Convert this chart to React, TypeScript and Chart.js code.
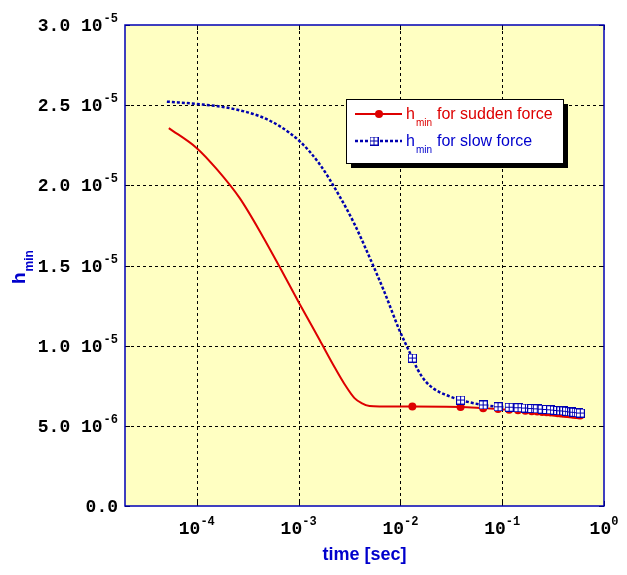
import { useEffect, useRef } from "react";
import { Chart, registerables } from "chart.js";

Chart.register(...registerables);

// ---- data ----
const markerTimes = [
  0.0131, 0.039, 0.065, 0.091, 0.117, 0.143, 0.169, 0.195, 0.221, 0.247, 0.273, 0.299,
  0.325, 0.351, 0.377, 0.403, 0.429, 0.455, 0.481, 0.507, 0.533, 0.559, 0.585,
];

const suddenTime = [
  5.31e-5, 1.0e-4, 1.57e-4, 2.64e-4, 4.43e-4, 6.52e-4, 1.02e-3, 1.61e-3, 2.25e-3, 2.82e-3,
  3.54e-3, 4.15e-3, 4.97e-3, 6.22e-3,
  0.0131, 0.039, 0.065, 0.091, 0.117, 0.143, 0.169, 0.195, 0.221, 0.247, 0.273, 0.299,
  0.325, 0.351, 0.377, 0.403, 0.429, 0.455, 0.481, 0.507, 0.533, 0.559, 0.585,
];
const suddenH = [
  2.357e-5, 2.232e-5, 2.101e-5, 1.92e-5, 1.683e-5, 1.49e-5, 1.262e-5, 1.035e-5, 8.67e-6, 7.61e-6,
  6.73e-6, 6.42e-6, 6.23e-6, 6.2e-6,
  6.2e-6, 6.17e-6, 6.1e-6, 6.05e-6, 6.0e-6, 5.97e-6, 5.94e-6, 5.91e-6, 5.89e-6, 5.87e-6, 5.85e-6, 5.83e-6,
  5.81e-6, 5.79e-6, 5.77e-6, 5.76e-6, 5.74e-6, 5.72e-6, 5.71e-6, 5.69e-6, 5.68e-6, 5.66e-6, 5.65e-6,
];

const slowTime = [
  5.08e-5, 1.07e-4, 2.11e-4, 4.15e-4, 6.52e-4, 1.02e-3, 1.61e-3, 2.52e-3, 3.54e-3, 4.97e-3,
  6.97e-3, 9.77e-3, 0.0131, 0.01469, 0.01758, 0.02155, 0.02822,
  0.039, 0.065, 0.091, 0.117, 0.143, 0.169, 0.195, 0.221, 0.247, 0.273, 0.299,
  0.325, 0.351, 0.377, 0.403, 0.429, 0.455, 0.481, 0.507, 0.533, 0.559, 0.585,
];
const slowH = [
  2.522e-5, 2.506e-5, 2.481e-5, 2.431e-5, 2.369e-5, 2.276e-5, 2.132e-5, 1.933e-5, 1.758e-5, 1.552e-5,
  1.334e-5, 1.097e-5, 9.23e-6, 8.54e-6, 7.79e-6, 7.29e-6, 6.92e-6,
  6.61e-6, 6.3e-6, 6.19e-6, 6.16e-6, 6.13e-6, 6.11e-6, 6.08e-6, 6.06e-6, 6.04e-6, 6.02e-6, 6.0e-6,
  5.98e-6, 5.96e-6, 5.94e-6, 5.93e-6, 5.91e-6, 5.89e-6, 5.87e-6, 5.85e-6, 5.84e-6, 5.82e-6, 5.8e-6,
];

const xTicks = [1e-4, 1e-3, 1e-2, 1e-1, 1];
const xTickExp = ["-4", "-3", "-2", "-1", "0"];
const yTicks = [0, 5e-6, 1e-5, 1.5e-5, 2e-5, 2.5e-5, 3e-5];
const yTickMant = ["0.0", "5.0", "1.0", "1.5", "2.0", "2.5", "3.0"];
const yTickExp = ["", "-6", "-5", "-5", "-5", "-5", "-5"];
const xMin = 1.97e-5;
const xMax = 1;
const yMin = 0;
const yMax = 3e-5;

const xTitle = "time [sec]";
const yTitleMain = "h";
const yTitleSub = "min";
const legendMain = "h";
const legendSub = "min";
const legendLabels = ["for sudden force", "for slow force"];

// ---- styles ----
const RED = "#DD0000";
const BLUE_LINE = "#0000B0";
const BLUE_TEXT = "#0000CC";
const PLOT_BG = "#FFFFC2";
const FRAME = "#0000B4";

function makeSquare(color: string) {
  const c = document.createElement("canvas");
  c.width = 9;
  c.height = 9;
  const g = c.getContext("2d")!;
  g.fillStyle = "#ffffff";
  g.fillRect(0, 0, 9, 9);
  g.strokeStyle = color;
  g.lineWidth = 1;
  g.strokeRect(0.5, 0.5, 8, 8);
  g.beginPath();
  g.moveTo(4.5, 0);
  g.lineTo(4.5, 9);
  g.moveTo(0, 4.5);
  g.lineTo(9, 4.5);
  g.stroke();
  return c;
}

const decor = {
  id: "decor",
  beforeDraw(chart: any) {
    const { ctx, chartArea: a, width, height } = chart;
    const xs = chart.scales.x;
    const ys = chart.scales.y;
    ctx.save();
    ctx.fillStyle = "#ffffff";
    ctx.fillRect(0, 0, width, height);
    ctx.fillStyle = PLOT_BG;
    ctx.fillRect(a.left, a.top, a.right - a.left, a.bottom - a.top);
    ctx.strokeStyle = "#000";
    ctx.lineWidth = 1;
    ctx.setLineDash([3, 3]);
    xTicks.forEach((t) => {
      const x = Math.round(xs.getPixelForValue(t)) + 0.5;
      if (x > a.left + 2 && x < a.right - 2) {
        ctx.beginPath();
        ctx.moveTo(x, a.top);
        ctx.lineTo(x, a.bottom);
        ctx.stroke();
      }
    });
    yTicks.forEach((t) => {
      const y = Math.round(ys.getPixelForValue(t)) + 0.5;
      if (y > a.top + 2 && y < a.bottom - 2) {
        ctx.beginPath();
        ctx.moveTo(a.left, y);
        ctx.lineTo(a.right, y);
        ctx.stroke();
      }
    });
    ctx.restore();
  },
  afterDatasetsDraw(chart: any) {
    const { ctx, chartArea: a } = chart;
    const xs = chart.scales.x;
    const ys = chart.scales.y;
    ctx.save();
    ctx.strokeStyle = "#000";
    ctx.lineWidth = 1;
    ctx.setLineDash([]);
    xTicks.forEach((t) => {
      const x = Math.round(xs.getPixelForValue(t)) + 0.5;
      ctx.beginPath();
      ctx.moveTo(x, a.bottom);
      ctx.lineTo(x, a.bottom - 5);
      ctx.moveTo(x, a.top);
      ctx.lineTo(x, a.top + 5);
      ctx.stroke();
    });
    yTicks.forEach((t) => {
      const y = Math.round(ys.getPixelForValue(t)) + 0.5;
      ctx.beginPath();
      ctx.moveTo(a.left, y);
      ctx.lineTo(a.left + 5, y);
      ctx.moveTo(a.right, y);
      ctx.lineTo(a.right - 5, y);
      ctx.stroke();
    });
    ctx.strokeStyle = FRAME;
    ctx.lineWidth = 1.5;
    ctx.strokeRect(a.left, a.top, a.right - a.left, a.bottom - a.top);
    ctx.restore();
  },
  afterDraw(chart: any) {
    const { ctx, chartArea: a } = chart;
    const xs = chart.scales.x;
    const ys = chart.scales.y;
    ctx.save();
    ctx.fillStyle = "#000";
    const mainFont = "bold 18px 'Liberation Mono', 'Courier New', monospace";
    const supFont = "bold 12px 'Liberation Mono', 'Courier New', monospace";
    // y tick labels
    yTicks.forEach((t, i) => {
      const y = ys.getPixelForValue(t);
      const right = a.left - 7;
      ctx.textBaseline = "alphabetic";
      if (yTickExp[i]) {
        ctx.font = supFont;
        const sw = ctx.measureText(yTickExp[i]).width;
        ctx.textAlign = "left";
        ctx.fillText(yTickExp[i], right - sw, y - 3);
        ctx.font = mainFont;
        ctx.textAlign = "right";
        ctx.fillText(yTickMant[i] + " 10", right - sw - 1, y + 6);
      } else {
        ctx.font = mainFont;
        ctx.textAlign = "right";
        ctx.fillText(yTickMant[i], right, y + 6);
      }
    });
    // x tick labels
    xTicks.forEach((t, i) => {
      const x = xs.getPixelForValue(t);
      ctx.font = mainFont;
      const mw = ctx.measureText("10").width;
      ctx.font = supFont;
      const sw = ctx.measureText(xTickExp[i]).width;
      const start = x - (mw + sw) / 2;
      ctx.textAlign = "left";
      ctx.font = mainFont;
      ctx.fillText("10", start, a.bottom + 28);
      ctx.font = supFont;
      ctx.fillText(xTickExp[i], start + mw, a.bottom + 19);
    });
    // x title
    ctx.fillStyle = BLUE_TEXT;
    ctx.font = "bold 18px 'Liberation Sans', Arial, sans-serif";
    ctx.textAlign = "center";
    ctx.fillText(xTitle, (a.left + a.right) / 2, 560);
    // y title
    ctx.save();
    ctx.translate(25, 284);
    ctx.rotate(-Math.PI / 2);
    ctx.textAlign = "left";
    ctx.font = "bold 19px 'Liberation Sans', Arial, sans-serif";
    ctx.fillText(yTitleMain, 0, 0);
    const hw = ctx.measureText(yTitleMain).width;
    ctx.font = "bold 12px 'Liberation Sans', Arial, sans-serif";
    ctx.fillText(yTitleSub, hw + 1, 8);
    ctx.restore();

    // legend
    const lx = 346, ly = 99, lw = 217, lh = 64;
    ctx.fillStyle = "#000";
    ctx.fillRect(lx + 5, ly + 5, lw, lh);
    ctx.fillStyle = "#fff";
    ctx.fillRect(lx, ly, lw, lh);
    ctx.strokeStyle = "#000";
    ctx.lineWidth = 1;
    ctx.strokeRect(lx + 0.5, ly + 0.5, lw, lh);

    // row 1
    ctx.strokeStyle = RED;
    ctx.lineWidth = 2;
    ctx.beginPath();
    ctx.moveTo(355, 114);
    ctx.lineTo(402, 114);
    ctx.stroke();
    ctx.fillStyle = RED;
    ctx.beginPath();
    ctx.arc(379, 114, 4, 0, Math.PI * 2);
    ctx.fill();
    // row 2
    ctx.strokeStyle = BLUE_LINE;
    ctx.lineWidth = 2.5;
    ctx.setLineDash([3, 2]);
    ctx.beginPath();
    ctx.moveTo(355, 141);
    ctx.lineTo(402, 141);
    ctx.stroke();
    ctx.setLineDash([]);
    const sq = makeSquare(BLUE_LINE);
    ctx.drawImage(sq, 374 - 4.5, 141 - 4.5);

    const rows = [
      { color: RED, base: 119 },
      { color: BLUE_TEXT, base: 146 },
    ];
    rows.forEach((r, i) => {
      ctx.fillStyle = r.color;
      ctx.textAlign = "left";
      ctx.font = "16px 'Liberation Sans', Arial, sans-serif";
      ctx.fillText(legendMain, 406, r.base);
      ctx.font = "10px 'Liberation Sans', Arial, sans-serif";
      ctx.fillText(legendSub, 416, r.base + 7);
      ctx.font = "16px 'Liberation Sans', Arial, sans-serif";
      ctx.fillText(legendLabels[i], 437, r.base);
    });
    ctx.restore();
  },
};

export default function App() {
  const ref = useRef<HTMLCanvasElement>(null);
  useEffect(() => {
    const square = makeSquare(BLUE_LINE);
    const suddenData = suddenTime.map((t, i) => ({ x: t, y: suddenH[i] }));
    const slowData = slowTime.map((t, i) => ({ x: t, y: slowH[i] }));
    const chart = new Chart(ref.current!, {
      type: "line",
      data: {
        datasets: [
          {
            label: "slow",
            data: slowData,
            order: 0,
            borderColor: BLUE_LINE,
            borderWidth: 2.5,
            borderDash: [3, 2],
            cubicInterpolationMode: "monotone",
            fill: false,
            pointStyle: square as any,
            pointRadius: slowTime.map((t) => (markerTimes.includes(t) ? 4.5 : 0)),
            pointHoverRadius: 0,
          } as any,
          {
            label: "sudden",
            data: suddenData,
            order: 1,
            borderColor: RED,
            borderWidth: 2,
            cubicInterpolationMode: "monotone",
            fill: false,
            pointStyle: "circle",
            pointBackgroundColor: RED,
            pointBorderColor: RED,
            pointBorderWidth: 0,
            pointRadius: suddenTime.map((t) => (markerTimes.includes(t) ? 4 : 0)),
            pointHoverRadius: 0,
          } as any,
        ],
      },
      options: {
        animation: false,
        responsive: false,
        devicePixelRatio: 1,
        events: [],
        layout: { padding: { left: 125, top: 25, right: 23, bottom: 69 } },
        plugins: { legend: { display: false }, tooltip: { enabled: false } },
        scales: {
          x: { type: "logarithmic", min: xMin, max: xMax, display: false },
          y: { type: "linear", min: yMin, max: yMax, display: false },
        },
      },
      plugins: [decor as any],
    });
    return () => chart.destroy();
  }, []);
  return (
    <div style={{ position: "fixed", left: 0, top: 0, width: 627, height: 575, background: "#fff" }}>
      <canvas ref={ref} width={627} height={575} style={{ display: "block", width: 627, height: 575 }} />
    </div>
  );
}
